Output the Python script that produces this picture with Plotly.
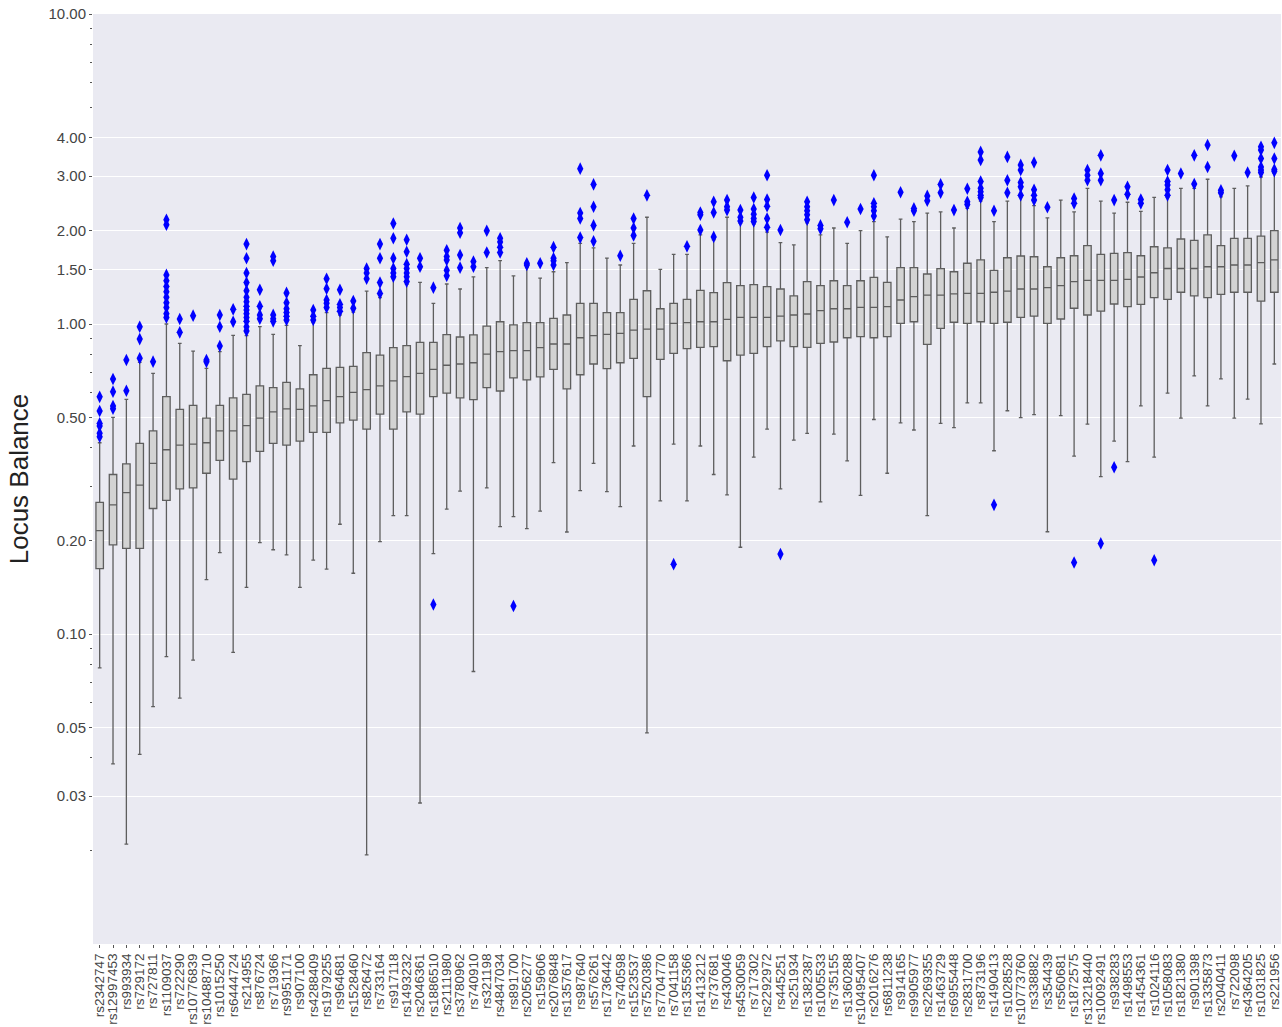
import plotly.graph_objects as go

# Per-locus balance distributions (five-number summaries) across samples
snps = [
    "rs2342747", "rs12997453", "rs993934", "rs729172", "rs727811", "rs1109037",
    "rs722290", "rs10776839", "rs10488710", "rs1015250", "rs6444724", "rs214955",
    "rs876724", "rs719366", "rs9951171", "rs907100", "rs4288409", "rs1979255",
    "rs964681", "rs1528460", "rs826472", "rs733164", "rs917118", "rs1493232",
    "rs2046361", "rs1886510", "rs2111980", "rs3780962", "rs740910", "rs321198",
    "rs4847034", "rs891700", "rs2056277", "rs159606", "rs2076848", "rs1357617",
    "rs987640", "rs576261", "rs1736442", "rs740598", "rs1523537", "rs7520386",
    "rs7704770", "rs7041158", "rs1355366", "rs1413212", "rs737681", "rs430046",
    "rs4530059", "rs717302", "rs2292972", "rs445251", "rs251934", "rs1382387",
    "rs1005533", "rs735155", "rs1360288", "rs10495407", "rs2016276", "rs6811238",
    "rs914165", "rs9905977", "rs2269355", "rs1463729", "rs6955448", "rs2831700",
    "rs873196", "rs1490413", "rs1028528", "rs10773760", "rs338882", "rs354439",
    "rs560681", "rs1872575", "rs13218440", "rs10092491", "rs938283", "rs1498553",
    "rs1454361", "rs1024116", "rs1058083", "rs1821380", "rs901398", "rs1335873",
    "rs2040411", "rs722098", "rs4364205", "rs1031825", "rs221956",
]

lower_whisker = [
    0.0778, 0.0381, 0.0210, 0.0409, 0.0583, 0.0845, 0.0621, 0.0824, 0.1497, 0.183,
    0.0873, 0.1414, 0.197, 0.187, 0.180, 0.1414, 0.173, 0.162, 0.226, 0.157,
    0.0194, 0.1985, 0.241, 0.241, 0.0285, 0.1816, 0.253, 0.289, 0.0757, 0.296,
    0.222, 0.239, 0.2187, 0.249, 0.357, 0.2133, 0.290, 0.355, 0.288, 0.2575,
    0.404, 0.048, 0.269, 0.41, 0.269, 0.404, 0.327, 0.281, 0.1905, 0.372,
    0.458, 0.294, 0.422, 0.444, 0.267, 0.441, 0.362, 0.280, 0.492, 0.330,
    0.480, 0.455, 0.241, 0.478, 0.463, 0.557, 0.557, 0.390, 0.525, 0.499,
    0.51, 0.2137, 0.506, 0.375, 0.475, 0.322, 0.419, 0.36, 0.544, 0.372,
    0.598, 0.497, 0.68, 0.544, 0.665, 0.497, 0.572, 0.476, 0.743,
]

q1 = [
    0.1624, 0.194, 0.189, 0.189, 0.254, 0.27, 0.294, 0.296, 0.330, 0.363,
    0.316, 0.360, 0.388, 0.412, 0.407, 0.419, 0.447, 0.447, 0.480, 0.490,
    0.458, 0.512, 0.458, 0.521, 0.512, 0.583, 0.598, 0.578, 0.570, 0.623,
    0.608, 0.670, 0.66, 0.675, 0.714, 0.618, 0.686, 0.743, 0.718, 0.75,
    0.775, 0.583, 0.769, 0.804, 0.833, 0.841, 0.845, 0.761, 0.794, 0.804,
    0.845, 0.882, 0.845, 0.841, 0.866, 0.875, 0.903, 0.91, 0.903, 0.91,
    1.005, 1.017, 0.86, 0.968, 1.013, 1.005, 1.017, 1.005, 1.013, 1.05,
    1.06, 1.005, 1.038, 1.124, 1.069, 1.10, 1.16, 1.137, 1.157, 1.216,
    1.20, 1.266, 1.233, 1.216, 1.246, 1.266, 1.266, 1.186, 1.266,
]

median = [
    0.2155, 0.261, 0.2856, 0.302, 0.355, 0.393, 0.407, 0.410, 0.414, 0.452,
    0.452, 0.470, 0.497, 0.521, 0.532, 0.530, 0.544, 0.566, 0.583, 0.602,
    0.614, 0.632, 0.655, 0.676, 0.693, 0.714, 0.736, 0.743, 0.750, 0.80,
    0.814, 0.82, 0.82, 0.839, 0.862, 0.862, 0.903, 0.917, 0.926, 0.933,
    0.956, 0.963, 0.963, 1.005, 1.01, 1.017, 1.017, 1.035, 1.05, 1.05,
    1.05, 1.06, 1.069, 1.077, 1.104, 1.12, 1.12, 1.132, 1.132, 1.137,
    1.195, 1.225, 1.24, 1.24, 1.25, 1.256, 1.256, 1.266, 1.277, 1.297,
    1.297, 1.31, 1.329, 1.37, 1.383, 1.383, 1.383, 1.393, 1.418, 1.463,
    1.51, 1.51, 1.51, 1.53, 1.53, 1.55, 1.55, 1.577, 1.61,
]

q3 = [
    0.266, 0.327, 0.354, 0.412, 0.452, 0.583, 0.530, 0.546, 0.497, 0.546,
    0.578, 0.593, 0.632, 0.623, 0.648, 0.618, 0.686, 0.719, 0.725, 0.730,
    0.808, 0.794, 0.839, 0.851, 0.873, 0.873, 0.924, 0.908, 0.922, 0.985,
    1.017, 0.993, 1.01, 1.01, 1.043, 1.069, 1.166, 1.166, 1.088, 1.088,
    1.20, 1.28, 1.12, 1.166, 1.20, 1.284, 1.262, 1.36, 1.329, 1.339,
    1.319, 1.297, 1.233, 1.37, 1.329, 1.379, 1.329, 1.379, 1.414, 1.363,
    1.52, 1.52, 1.45, 1.508, 1.474, 1.57, 1.61, 1.49, 1.636, 1.657,
    1.648, 1.53, 1.636, 1.66, 1.79, 1.677, 1.69, 1.70, 1.66, 1.775,
    1.76, 1.88, 1.86, 1.94, 1.79, 1.89, 1.89, 1.92, 2.0,
]

upper_whisker = [
    0.414, 0.50, 0.571, 0.752, 0.693, 1.0, 0.866, 0.818, 0.719, 0.814,
    0.919, 0.917, 0.98, 0.926, 0.99, 0.851, 1.01, 1.088, 1.069, 1.093,
    1.277, 1.216, 1.40, 1.343, 1.363, 1.166, 1.346, 1.297, 1.42, 1.52,
    1.60, 1.43, 1.52, 1.407, 1.474, 1.577, 1.82, 1.76, 1.63, 1.55,
    1.82, 2.21, 1.50, 1.677, 1.677, 1.94, 1.87, 2.21, 2.11, 2.10,
    1.98, 1.83, 1.80, 2.12, 1.94, 2.04, 1.82, 2.00, 2.14, 1.91,
    2.18, 2.14, 2.28, 2.30, 2.04, 2.36, 2.49, 2.14, 2.49, 2.57,
    2.41, 2.20, 2.51, 2.30, 2.74, 2.49, 2.28, 2.47, 2.31, 2.56,
    2.56, 2.74, 2.74, 2.93, 2.57, 2.74, 2.79, 2.98, 3.06,
]

# Samples falling outside the whiskers, one list per locus
outliers = [
    [0.582, 0.524, 0.478, 0.469, 0.444, 0.433],
    [0.665, 0.605, 0.544, 0.533],
    [0.765, 0.609],
    [0.98, 0.894, 0.775],
    [0.756],
    [2.17, 2.09, 1.44, 1.38, 1.32, 1.27, 1.22, 1.17, 1.13, 1.08, 1.05],
    [1.038, 0.94],
    [1.064],
    [0.765, 0.755],
    [1.069, 0.98, 0.849],
    [1.115, 1.017],
    [1.81, 1.63, 1.46, 1.36, 1.28, 1.22, 1.18, 1.14, 1.11, 1.08, 1.05, 1.02, 0.98, 0.95],
    [1.29, 1.14, 1.07, 1.04],
    [1.65, 1.6, 1.07, 1.04, 1.02],
    [1.26, 1.17, 1.12, 1.09, 1.06, 1.03],
    [],
    [1.11, 1.06, 1.03],
    [1.40, 1.30, 1.195, 1.166, 1.13],
    [1.29, 1.157, 1.13, 1.10],
    [1.186, 1.124],
    [1.51, 1.46, 1.40],
    [1.81, 1.63, 1.36, 1.255],
    [2.11, 1.89, 1.63, 1.51, 1.46, 1.42],
    [1.87, 1.71, 1.56, 1.51, 1.46, 1.42, 1.37],
    [1.63, 1.53],
    [1.31, 0.1245],
    [1.73, 1.65, 1.61, 1.49, 1.43],
    [2.04, 1.97, 1.67, 1.52],
    [1.59, 1.53],
    [2.0, 1.70],
    [1.89, 1.84, 1.77, 1.70],
    [0.1231],
    [1.57, 1.55],
    [1.57],
    [1.77, 1.63, 1.60, 1.55],
    [],
    [3.17, 2.28, 2.19, 1.90],
    [2.82, 2.39, 2.08, 1.85],
    [],
    [1.66],
    [2.19, 2.04, 1.93],
    [2.60],
    [],
    [0.168],
    [1.78],
    [2.29, 2.25, 2.01],
    [2.48, 2.29, 1.91],
    [2.51, 2.39, 2.33],
    [2.33, 2.21, 2.15],
    [2.56, 2.35, 2.26, 2.19, 2.14],
    [3.02, 2.52, 2.40, 2.19, 2.05],
    [2.01, 0.181],
    [],
    [2.48, 2.39, 2.32, 2.25, 2.17],
    [2.08, 2.03],
    [2.51],
    [2.13],
    [2.35],
    [3.02, 2.45, 2.39, 2.32, 2.23],
    [],
    [2.66],
    [2.36, 2.32],
    [2.59, 2.50],
    [2.82, 2.65],
    [2.33],
    [2.73, 2.48, 2.43],
    [3.59, 3.38, 2.88, 2.74, 2.67, 2.60, 2.56],
    [2.32, 0.261],
    [3.46, 2.91, 2.65],
    [3.26, 3.14, 2.86, 2.77, 2.60],
    [3.32, 2.71, 2.60, 2.51],
    [2.38],
    [],
    [2.54, 2.45, 0.170],
    [3.14, 3.02, 2.91],
    [3.50, 3.06, 2.91, 0.196],
    [2.51, 0.345],
    [2.77, 2.62],
    [2.52, 2.45],
    [0.173],
    [3.14, 2.88, 2.81, 2.71, 2.60],
    [3.06],
    [3.50, 2.83],
    [3.78, 3.21],
    [2.70, 2.65],
    [3.49],
    [3.08],
    [3.73, 3.64, 3.42, 3.21, 3.14, 3.08],
    [3.84, 3.42, 3.15, 3.11],
]

y_tick_values = [0.03, 0.05, 0.1, 0.2, 0.5, 1, 1.5, 2, 3, 4, 10]
y_tick_labels = ["0.03", "0.05", "0.10", "0.20", "0.50", "1.00", "1.50",
                 "2.00", "3.00", "4.00", "10.00"]
y_minor_values = [0.02, 0.04, 0.06, 0.07, 0.08, 0.09,
                  0.3, 0.4, 0.6, 0.7, 0.8, 0.9,
                  5, 6, 7, 8, 9]

FONT = "Liberation Sans, Arial, Helvetica, sans-serif"

fig = go.Figure()

fig.add_trace(go.Box(
    x=snps,
    q1=q1,
    median=median,
    q3=q3,
    lowerfence=lower_whisker,
    upperfence=upper_whisker,
    boxpoints=False,
    fillcolor="#d3d3d3",
    line=dict(color="#5e5e5e", width=1.3),
    whiskerwidth=0.5,
    showlegend=False,
))

out_x = [snp for snp, vals in zip(snps, outliers) for _ in vals]
out_y = [v for vals in outliers for v in vals]

fig.add_trace(go.Scatter(
    x=out_x,
    y=out_y,
    mode="markers",
    marker=dict(symbol="diamond-tall", size=9, color="#0000ff",
                line=dict(width=0)),
    showlegend=False,
))

fig.update_layout(
    width=1282,
    height=1027,
    margin=dict(l=93, r=1, t=14, b=83),
    paper_bgcolor="white",
    plot_bgcolor="#eaeaf2",
    boxgap=0.2,
    font=dict(family=FONT, color="#444444"),
    showlegend=False,
)

fig.update_xaxes(
    type="category",
    categoryorder="array",
    categoryarray=snps,
    tickmode="array",
    tickvals=snps,
    ticktext=snps,
    range=[-0.5, len(snps) - 0.5],
    tickangle=-90,
    tickfont=dict(size=13.5, color="#444444", family=FONT),
    ticks="outside",
    ticklen=3,
    tickcolor="#555555",
    showgrid=False,
    zeroline=False,
    showline=False,
    automargin=False,
)

fig.update_yaxes(
    type="log",
    range=[-2, 1],
    tickmode="array",
    tickvals=y_tick_values,
    ticktext=y_tick_labels,
    tickfont=dict(size=15, color="#444444", family=FONT),
    ticks="outside",
    ticklen=3,
    tickcolor="#555555",
    showgrid=True,
    gridcolor="white",
    gridwidth=1.2,
    zeroline=False,
    showline=False,
    automargin=False,
    minor=dict(tickmode="array", tickvals=y_minor_values, ticks="outside",
               ticklen=2, tickcolor="#555555", showgrid=False),
    title=dict(text="Locus Balance", font=dict(size=26, color="#222222", family=FONT),
               standoff=12),
)

fig.write_html("out.html")
